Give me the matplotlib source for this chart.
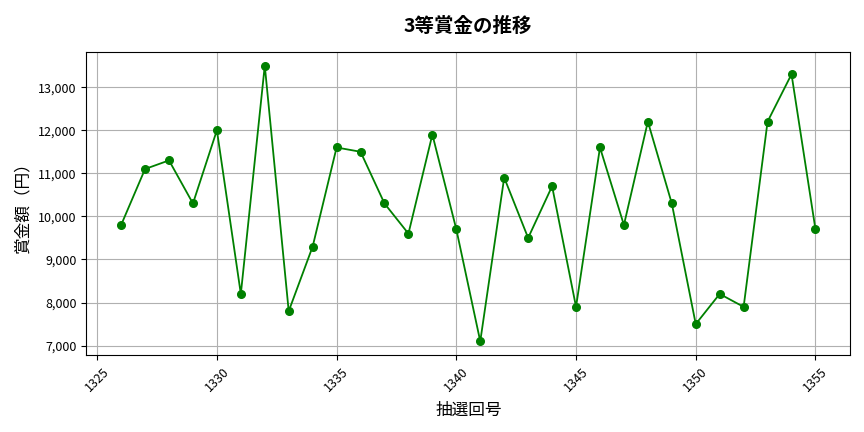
import matplotlib
matplotlib.use("Agg")
import matplotlib.pyplot as plt
from matplotlib.ticker import FuncFormatter, MultipleLocator

plt.rcParams['font.family'] = ['Noto Sans CJK JP', 'DejaVu Sans']

draws = list(range(1326, 1356))
prizes = [9800, 11100, 11300, 10300, 12000, 8200, 13500, 7800, 9300, 11600,
          11500, 10300, 9600, 11900, 9700, 7100, 10900, 9500, 10700, 7900,
          11600, 9800, 12200, 10300, 7500, 8200, 7900, 12200, 13300, 9700]

fig, ax = plt.subplots(figsize=(8.64, 4.32), dpi=100)
ax.plot(draws, prizes, color='green', marker='o', markersize=5.5, linewidth=1.3)
ax.set_title('3等賞金の推移', fontsize=14, fontweight='bold', pad=14)
ax.set_xlabel('抽選回号', fontsize=12, labelpad=6)
ax.set_ylabel('賞金額（円）', fontsize=12, labelpad=5)
ax.yaxis.set_major_formatter(FuncFormatter(lambda v, p: f'{int(v):,}'))
ax.xaxis.set_major_locator(MultipleLocator(5))
ax.grid(True, color='#b0b0b0', linewidth=0.8)
ax.tick_params(axis='x', labelrotation=45, labelsize=9)
ax.tick_params(axis='y', labelsize=9)
fig.subplots_adjust(left=0.1, right=0.984, top=0.88, bottom=0.178)
fig.savefig('out.png')
